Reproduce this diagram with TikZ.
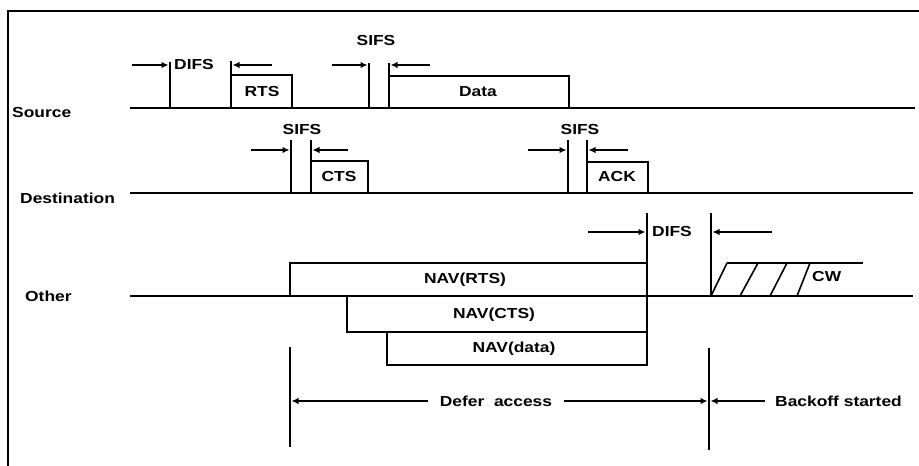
\documentclass[tikz,border=0pt]{standalone}
\usepackage{fontspec}
\newfontfamily\diagfont{Liberation Sans}[FakeStretch=1.2]
\usetikzlibrary{arrows.meta}

\tikzset{
  lbl/.style={font=\fontsize{14.5}{16}\diagfont\bfseries, inner sep=0pt},
  ln/.style={line width=1.6pt},
  ptr/.style={line width=1.5pt, -{Latex[length=7pt,width=6.5pt]}},
}

\begin{document}
\begin{tikzpicture}[x=1pt, y=-1pt]
  \useasboundingbox (0,0) rectangle (919,466);
  % frame
  \draw[ln] (8,466) -- (8,11) -- (919,11);

  % row labels and time lines
  \node[lbl, anchor=west] (src) at (12,113) {Source};
  \node[lbl, anchor=west] (dst) at (20,198) {Destination};
  \node[lbl, anchor=west] (oth) at (25,296) {Other};
  \draw[ln] (130,108) -- (915,108);
  \draw[ln] (130,193) -- (913,193);
  \draw[ln] (130,296) -- (913,296);

  % source: DIFS, RTS, SIFS, Data
  \draw[ptr] (132,65) -- (168.5,65);
  \draw[ln] (170,62) -- (170,108);
  \node[lbl, anchor=west] (difsA) at (174,65) {DIFS};
  \draw[ln] (231,61) -- (231,108);
  \draw[ptr] (272,65) -- (232.5,65);
  \draw[ln] (231,75) -- (292,75) -- (292,108);
  \node[lbl] (rts) at (262,92) {RTS};
  \node[lbl] (sifsA) at (376,41) {SIFS};
  \draw[ptr] (332,65) -- (367.5,65);
  \draw[ln] (369,63) -- (369,108);
  \draw[ln] (389,63) -- (389,108);
  \draw[ptr] (430,65) -- (390.5,65);
  \draw[ln] (389,76) -- (569,76) -- (569,108);
  \node[lbl] (data) at (478,92) {Data};

  % destination: SIFS, CTS, SIFS, ACK
  \node[lbl] (sifsB) at (302,130) {SIFS};
  \draw[ptr] (251,150) -- (289.5,150);
  \draw[ln] (291,140) -- (291,193);
  \draw[ln] (311,140) -- (311,193);
  \draw[ptr] (348,150) -- (312.5,150);
  \draw[ln] (311,161) -- (368,161) -- (368,193);
  \node[lbl] (cts) at (339,177) {CTS};
  \node[lbl] (sifsC) at (580,130) {SIFS};
  \draw[ptr] (528,150) -- (566.5,150);
  \draw[ln] (568,140) -- (568,193);
  \draw[ln] (587,140) -- (587,193);
  \draw[ptr] (628,150) -- (588.5,150);
  \draw[ln] (587,162) -- (648,162) -- (648,193);
  \node[lbl] (ack) at (617,177) {ACK};

  % other: NAV, DIFS, CW
  \draw[ln] (290,296) rectangle (647,263);
  \node[lbl] (navr) at (465,280) {NAV(RTS)};
  \draw[ln] (347,296) rectangle (647,332);
  \node[lbl] (navc) at (494,315) {NAV(CTS)};
  \draw[ln] (387,332) rectangle (647,365);
  \node[lbl] (navd) at (514,349) {NAV(data)};
  \draw[ln] (647,213) -- (647,365);
  \draw[ptr] (588,232) -- (645.5,232);
  \node[lbl, anchor=west] (difsB) at (652,232) {DIFS};
  \draw[ln] (711,213) -- (711,296);
  \draw[ptr] (772,232) -- (712.5,232);
  \draw[ln] (727,263) -- (863,263);
  \foreach \xa/\xb in {711/727, 740/758, 770/787, 797/810}
    \draw[ln] (\xa,296) -- (\xb,263);
  \node[lbl, anchor=west] (cw) at (812,277) {CW};

  % defer access / backoff
  \draw[ln] (290,347) -- (290,447);
  \draw[ln] (709,348) -- (709,450);
  \node[lbl] (defer) at (496,401) {Defer\ \ access};
  \draw[ptr] ([xshift=-12pt]defer.west) -- (291.5,401);
  \draw[ptr] ([xshift=12pt]defer.east) -- (707.5,401);
  \node[lbl, anchor=west] (backoff) at (775,401) {Backoff started};
  \draw[ptr] ([xshift=-10pt]backoff.west) -- (710.5,401);
\end{tikzpicture}
\end{document}
